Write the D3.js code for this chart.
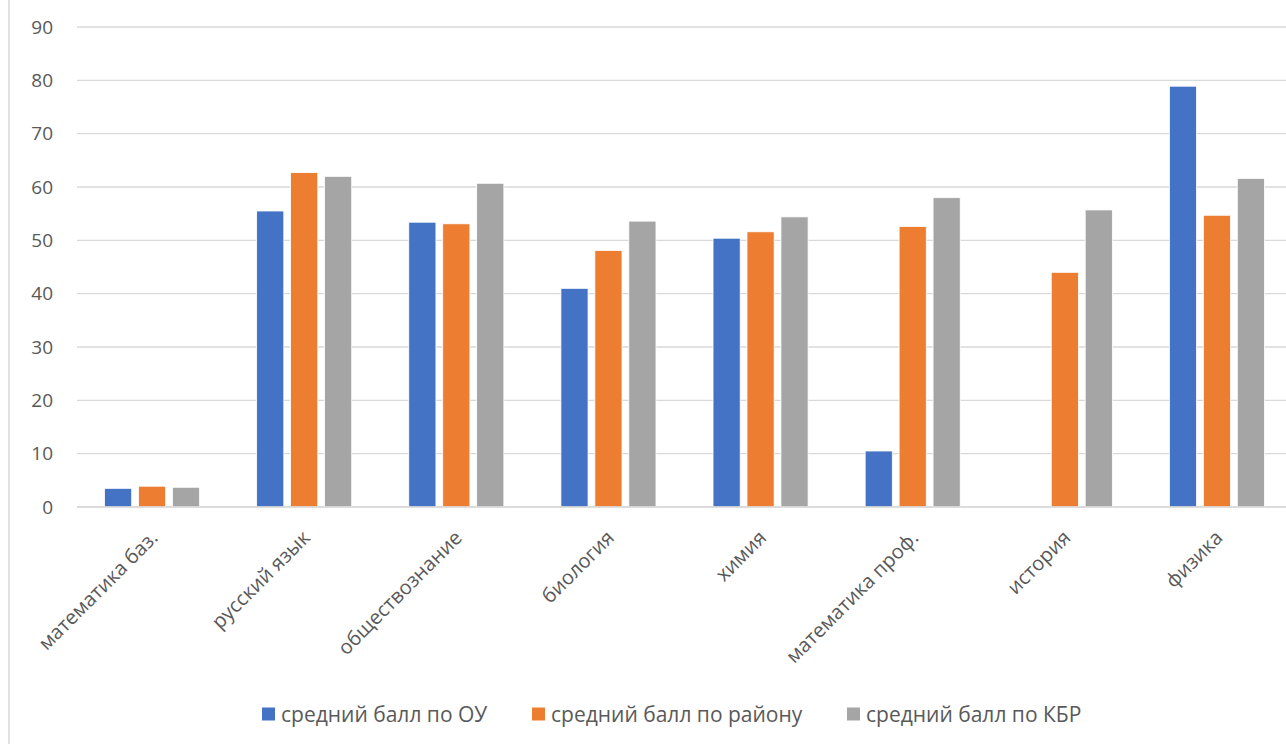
<!DOCTYPE html>
<html lang="ru">
<head>
<meta charset="utf-8">
<style>
  body { margin: 0; background: #fff; }
  svg { display: block; font-family: "Open Sans", sans-serif; }
</style>
</head>
<body>
<svg id="chart" width="1286" height="744"></svg>
<script src="https://cdn.jsdelivr.net/npm/d3@7"></script>
<script>
// data
var categories = ["математика баз.", "русский язык", "обществознание", "биология",
                  "химия", "математика проф.", "история", "физика"];
var seriesNames = ["средний балл по ОУ", "средний балл по району", "средний балл по КБР"];
var valuesOU     = [3.5, 55.5, 53.4, 41.0, 50.4, 10.5, null, 78.9];
var valuesRaion  = [3.9, 62.7, 53.1, 48.1, 51.6, 52.6, 44.0, 54.7];
var valuesKBR    = [3.7, 62.0, 60.7, 53.6, 54.4, 58.0, 55.7, 61.6];
var yTicks = [0, 10, 20, 30, 40, 50, 60, 70, 80, 90];
var colors = ["#4472C4", "#ED7D31", "#A5A5A5"];

var series = [valuesOU, valuesRaion, valuesKBR];

var svg = d3.select("#chart");
// the plot area runs a little past the right edge of the picture (cropped)
var plotLeft = 76, plotRight = 1293, plotTop = 27, plotBottom = 507;
var gridLeft = 77, gridRight = 1286;

// chart frame edge on the left
svg.append("line")
    .attr("x1", 9).attr("x2", 9).attr("y1", 0).attr("y2", 744)
    .attr("stroke", "#d9d9d9").attr("stroke-width", 1.5);

var x = d3.scaleBand().domain(categories).range([plotLeft, plotRight]);
var xs = d3.scaleBand().domain([0, 1, 2]).range([0, x.bandwidth()]).paddingInner(0.2).paddingOuter(0.84);
var y = d3.scaleLinear().domain([0, 90]).range([plotBottom, plotTop]);

// gridlines
svg.append("g").selectAll("line").data(yTicks).enter().append("line")
    .attr("x1", gridLeft).attr("x2", gridRight)
    .attr("y1", function(d) { return y(d); }).attr("y2", function(d) { return y(d); })
    .attr("stroke", "#d9d9d9").attr("stroke-width", 1.3);

// y labels
svg.append("g").selectAll("text").data(yTicks).enter().append("text")
    .attr("x", 53).attr("y", function(d) { return y(d); })
    .attr("dy", "0.35em").attr("text-anchor", "end")
    .attr("font-size", 19).attr("fill", "#595959")
    .text(function(d) { return d; });

// bars
series.forEach(function(vals, si) {
    svg.append("g").selectAll("rect")
        .data(vals.map(function(v, i) { return {c: categories[i], v: v}; })
                  .filter(function(d) { return d.v != null; }))
        .enter().append("rect")
        .attr("x", function(d) { return x(d.c) + xs(si); })
        .attr("width", xs.bandwidth())
        .attr("y", function(d) { return y(d.v); })
        .attr("height", function(d) { return y(0) - y(d.v); })
        .attr("fill", colors[si])
        .attr("stroke", "#fff").attr("stroke-width", 0.8);
});

// x axis line
svg.append("line")
    .attr("x1", gridLeft).attr("x2", gridRight).attr("y1", y(0)).attr("y2", y(0))
    .attr("stroke", "#d9d9d9").attr("stroke-width", 1.5);

// x labels rotated
svg.append("g").selectAll("text").data(categories).enter().append("text")
    .attr("transform", function(d) {
        return "translate(" + (x(d) + x.bandwidth() / 2 + 7) + "," + 539 + ") rotate(-45)";
    })
    .attr("text-anchor", "end")
    .attr("font-size", 20).attr("fill", "#595959")
    .text(function(d) { return d; });

// legend
var legendX = [262, 532, 847];
var lg = svg.append("g").selectAll("g").data(seriesNames).enter().append("g")
    .attr("transform", function(d, i) { return "translate(" + legendX[i] + ",714)"; });
lg.append("rect").attr("x", 0).attr("y", -6.5).attr("width", 13).attr("height", 13)
    .attr("fill", function(d, i) { return colors[i]; });
lg.append("text").attr("x", 19).attr("y", 1).attr("dy", "0.35em")
    .attr("font-size", 21).attr("fill", "#595959")
    .text(function(d) { return d; });
</script>
</body>
</html>
